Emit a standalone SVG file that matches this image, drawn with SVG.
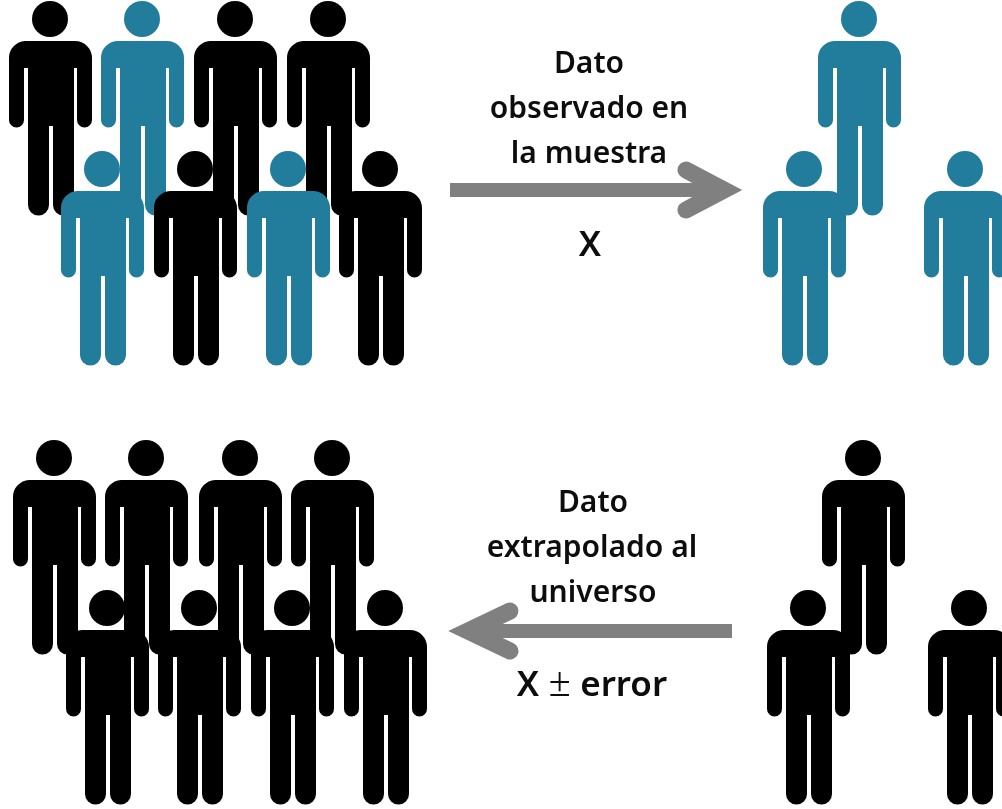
<svg xmlns="http://www.w3.org/2000/svg" width="1002" height="809" viewBox="0 0 1002 809">
<style>
.k{fill:#000}
.t{fill:#217c9c}
.lbl{font-family:"Noto Sans","Liberation Sans",sans-serif;font-weight:600;font-size:30px;fill:#111;text-anchor:middle}
.big{font-size:35px}
.thin{font-weight:300;font-size:40px}
.shaft{fill:none;stroke:#808080;stroke-width:14}
.head{fill:none;stroke:#808080;stroke-width:17;stroke-linecap:round;stroke-linejoin:miter}
</style>
<defs>
<filter id="soft" x="-5%" y="-5%" width="110%" height="110%"><feGaussianBlur stdDeviation="0.6"/></filter>
<g id="person">
<circle cx="0" cy="0" r="18"/>
<path d="M-25,22H25A17,17 0 0 1 42,39V101A7.5,7.5 0 0 1 27,101V49H24V186A10.5,10.5 0 0 1 3,186V107H-1V186A10.5,10.5 0 0 1 -22,186V49H-26V101A7.5,7.5 0 0 1 -41,101V39A17,17 0 0 1 -25,22Z"/>
</g>
</defs>
<rect width="1002" height="809" fill="#fff"/>
<g filter="url(#soft)">
<g id="universe-top">
<use href="#person" class="k" x="50" y="19"/>
<use href="#person" class="t" x="142" y="19"/>
<use href="#person" class="k" x="235" y="19"/>
<use href="#person" class="k" x="328" y="19"/>
<use href="#person" class="t" x="102" y="169"/>
<use href="#person" class="k" x="195" y="169"/>
<use href="#person" class="t" x="288" y="169"/>
<use href="#person" class="k" x="380" y="169"/>
</g>
<g id="sample-top">
<use href="#person" class="t" x="859" y="19"/>
<use href="#person" class="t" x="804" y="169"/>
<use href="#person" class="t" x="965" y="169"/>
</g>
<g id="universe-bottom">
<use href="#person" class="k" x="54" y="458"/>
<use href="#person" class="k" x="146" y="458"/>
<use href="#person" class="k" x="240" y="458"/>
<use href="#person" class="k" x="332" y="458"/>
<use href="#person" class="k" x="107" y="608"/>
<use href="#person" class="k" x="199" y="608"/>
<use href="#person" class="k" x="292" y="608"/>
<use href="#person" class="k" x="385" y="608"/>
</g>
<g id="sample-bottom">
<use href="#person" class="k" x="863" y="458"/>
<use href="#person" class="k" x="808" y="608"/>
<use href="#person" class="k" x="969" y="608"/>
</g>
<g id="connectors">
<path class="shaft" d="M450,190H720"/>
<path class="head" d="M686,170L724,190L686,210"/>
<path class="shaft" d="M732,631H472"/>
<path class="head" d="M510,611L468,631L510,651"/>
</g>
<g id="label-top">
<text class="lbl" x="589" y="73">Dato</text>
<text class="lbl" x="589" y="118">observado en</text>
<text class="lbl" x="589" y="163">la muestra</text>
<text class="lbl big" x="590" y="256">X</text>
</g>
<g id="label-bottom">
<text class="lbl" x="593" y="512">Dato</text>
<text class="lbl" x="592" y="557">extrapolado al</text>
<text class="lbl" x="593" y="602">universo</text>
<text class="lbl big" x="592" y="696">X <tspan class="thin">±</tspan> error</text>
</g>
</g>
</svg>
